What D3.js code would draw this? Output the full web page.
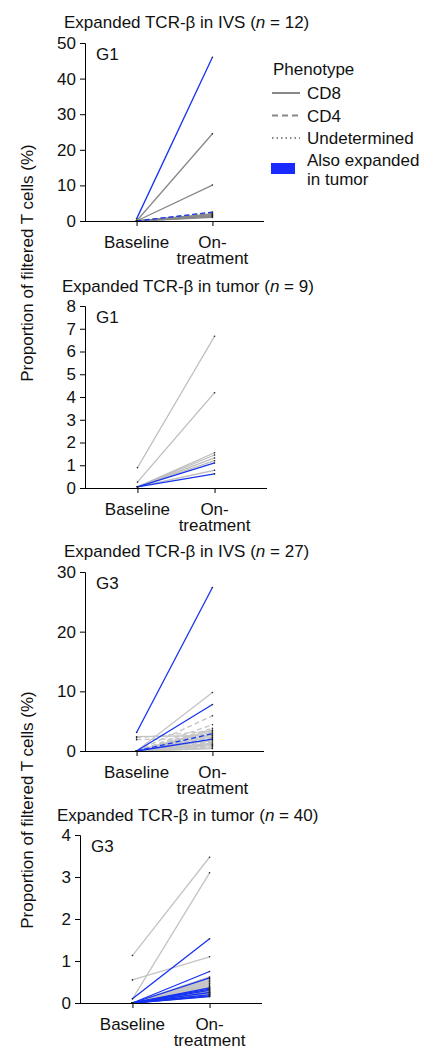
<!DOCTYPE html>
<html>
<head>
<meta charset="utf-8">
<script src="https://cdn.jsdelivr.net/npm/d3@7"></script>
<style>
  body { margin: 0; background: #fff; }
  text { font-family: "Liberation Sans", Arial, sans-serif; fill: #111; }
</style>
</head>
<body>
<div class="chart"></div>
<script>
var w = 441, h = 1047;

var timepoints = ["Baseline", "On-treatment"];

// each row: [baseline %, on-treatment %, phenotype, also expanded in tumor]
var g1Ivs = [
  [0.6, 46.0, "CD8", true],
  [0.0, 24.5, "CD8", false],
  [0.0, 10.1, "CD8", false],
  [0.1, 2.2, "CD4", false],
  [0.0, 2.0, "CD8", false],
  [0.0, 1.8, "CD8", false],
  [0.0, 1.6, "Undetermined", false],
  [0.0, 1.5, "CD8", false],
  [0.0, 1.3, "CD8", false],
  [0.0, 1.2, "CD4", false],
  [0.0, 1.0, "CD8", false],
  [0.0, 2.5, "CD4", true]
];

var g1Tumor = [
  [0.89, 6.67, "CD8", false],
  [0.26, 4.19, "CD8", false],
  [0.05, 1.55, "CD8", false],
  [0.05, 1.45, "CD8", false],
  [0.05, 1.32, "CD8", false],
  [0.05, 1.2, "CD8", false],
  [0.05, 0.78, "CD8", false],
  [0.05, 1.1, "CD8", true],
  [0.05, 0.62, "CD8", true]
];

var g3Ivs = [
  [0.0, 9.8, "CD8", false],
  [0.0, 5.9, "CD4", false],
  [0.0, 4.4, "CD4", false],
  [2.4, 2.6, "CD8", false],
  [2.2, 3.4, "CD4", false],
  [1.9, 2.2, "CD4", false],
  [0.0, 3.8, "CD4", false],
  [0.0, 3.5, "CD8", false],
  [0.0, 3.2, "CD8", false],
  [0.0, 3.0, "CD4", false],
  [0.0, 2.7, "CD8", false],
  [0.0, 2.4, "CD8", false],
  [0.0, 2.2, "CD4", false],
  [0.0, 1.9, "CD8", false],
  [0.0, 1.7, "CD8", false],
  [0.0, 1.5, "CD4", false],
  [0.0, 1.3, "CD8", false],
  [0.0, 1.1, "CD8", false],
  [0.0, 1.0, "Undetermined", false],
  [0.0, 0.9, "CD8", false],
  [0.0, 0.7, "CD4", false],
  [0.0, 0.5, "CD8", false],
  [0.0, 0.4, "CD8", false],
  [3.1, 27.4, "CD8", true],
  [0.0, 7.8, "CD8", true],
  [0.0, 2.9, "CD4", true],
  [0.0, 2.0, "CD8", true]
];

var g3Tumor = [
  [1.13, 3.47, "CD8", false],
  [0.1, 3.1, "CD8", false],
  [0.55, 1.1, "CD8", false],
  [0.0, 0.62, "CD8", false],
  [0.0, 0.58, "CD8", false],
  [0.0, 0.55, "CD8", false],
  [0.0, 0.52, "CD8", false],
  [0.0, 0.5, "CD8", false],
  [0.0, 0.47, "CD8", false],
  [0.0, 0.45, "CD8", false],
  [0.0, 0.42, "CD8", false],
  [0.0, 0.4, "CD8", false],
  [0.0, 0.38, "CD8", false],
  [0.0, 0.36, "CD8", false],
  [0.0, 0.34, "CD8", false],
  [0.0, 0.32, "CD8", false],
  [0.0, 0.3, "CD8", false],
  [0.0, 0.28, "CD8", false],
  [0.0, 0.27, "CD8", false],
  [0.0, 0.26, "CD8", false],
  [0.0, 0.25, "CD8", false],
  [0.0, 0.24, "CD8", false],
  [0.0, 0.23, "CD8", false],
  [0.0, 0.22, "CD8", false],
  [0.0, 0.21, "CD8", false],
  [0.0, 0.2, "CD8", false],
  [0.0, 0.19, "CD8", false],
  [0.0, 0.18, "CD8", false],
  [0.0, 0.17, "CD8", false],
  [0.0, 0.16, "CD8", false],
  [0.1, 1.53, "CD8", true],
  [0.0, 0.75, "CD8", true],
  [0.0, 0.6, "CD8", true],
  [0.0, 0.36, "CD8", true],
  [0.0, 0.33, "CD8", true],
  [0.0, 0.3, "CD8", true],
  [0.0, 0.25, "CD8", true],
  [0.0, 0.2, "CD8", true],
  [0.0, 0.17, "CD8", true],
  [0.0, 0.15, "CD8", true]
];

var titles = [
  ["Expanded TCR-β in IVS (", "12"],
  ["Expanded TCR-β in tumor (", "9"],
  ["Expanded TCR-β in IVS (", "27"],
  ["Expanded TCR-β in tumor (", "40"]
];
var groups = ["G1", "G1", "G3", "G3"];
var yMax = [50, 8, 30, 4];
var yTicks = [[0, 10, 20, 30, 40, 50], [0, 1, 2, 3, 4, 5, 6, 7, 8], [0, 10, 20, 30], [0, 1, 2, 3, 4]];
var legendItems = ["CD8", "CD4", "Undetermined"];

var blue = "#1533f2";
var dashes = { "CD8": null, "CD4": "5,3", "Undetermined": "1,2" };
var fs = "17px";

// panel boxes: axis x, top y, zero y, right end, title x/y
var panels = [
  { data: g1Ivs, x0: 85, top: 43, bot: 221, x1: 264, tx: 64, ty: 28, grey: "#888" },
  { data: g1Tumor, x0: 85, top: 306, bot: 488, x1: 267, tx: 62, ty: 292, grey: "#bdbdbd" },
  { data: g3Ivs, x0: 85, top: 572, bot: 751, x1: 264, tx: 64, ty: 557, grey: "#c4c4c4" },
  { data: g3Tumor, x0: 80, top: 835, bot: 1003, x1: 262, tx: 57, ty: 821, grey: "#c4c4c4" }
];

var svg = d3.select(".chart").append("svg")
  .attr("width", w).attr("height", h);

panels.forEach(function (p, k) {
  var x = d3.scalePoint().domain(timepoints).range([p.x0, p.x1]).padding(0.68);
  var y = d3.scaleLinear().domain([0, yMax[k]]).range([p.bot, p.top]);

  var g = svg.append("g");

  var t = g.append("text").attr("x", p.tx).attr("y", p.ty).style("font-size", fs);
  t.append("tspan").text(titles[k][0]);
  t.append("tspan").style("font-style", "italic").text("n");
  t.append("tspan").text(" = " + titles[k][1] + ")");

  g.append("text").attr("x", p.x0 + 11).attr("y", p.top + 17)
    .style("font-size", fs).text(groups[k]);

  // grey first, blue on top
  var rows = p.data.slice().sort(function (a, b) { return (a[3] ? 1 : 0) - (b[3] ? 1 : 0); });

  g.selectAll("line.trace").data(rows).enter().append("line")
    .attr("class", "trace")
    .attr("x1", x("Baseline")).attr("x2", x("On-treatment"))
    .attr("y1", d => y(d[0])).attr("y2", d => y(d[1]))
    .attr("stroke", d => d[3] ? blue : p.grey)
    .attr("stroke-width", 1.3)
    .attr("stroke-dasharray", d => dashes[d[2]]);

  var pts = [];
  rows.forEach(function (d) {
    pts.push([x("Baseline"), y(d[0])]);
    pts.push([x("On-treatment"), y(d[1])]);
  });
  g.selectAll("circle").data(pts).enter().append("circle")
    .attr("cx", d => d[0]).attr("cy", d => d[1])
    .attr("r", 0.8).attr("fill", "#222");

  var yAxis = d3.axisLeft(y).tickValues(yTicks[k]).tickFormat(d => d).tickSize(5).tickPadding(4);
  var ya = g.append("g").attr("transform", "translate(" + p.x0 + ",0)").call(yAxis);
  ya.selectAll("text").style("font-size", fs).attr("fill", "#111")
    .style("font-family", "'Liberation Sans', Arial, sans-serif");

  var xAxis = d3.axisBottom(x).tickSize(5).tickSizeOuter(0).tickFormat("");
  var xa = g.append("g").attr("transform", "translate(0," + p.bot + ")").call(xAxis);
  xa.select(".domain").attr("d", "M" + p.x0 + ",0.5H" + p.x1);

  g.append("text").attr("x", x("Baseline")).attr("y", p.bot + 27)
    .attr("text-anchor", "middle").style("font-size", fs).text("Baseline");
  var on = g.append("text").attr("x", x("On-treatment")).attr("y", p.bot + 27)
    .attr("text-anchor", "middle").style("font-size", fs);
  on.append("tspan").attr("x", x("On-treatment")).text("On-");
  on.append("tspan").attr("x", x("On-treatment")).attr("dy", 16).text("treatment");
});

// shared y titles
[263, 810].forEach(function (cy) {
  svg.append("text")
    .attr("transform", "translate(33," + cy + ") rotate(-90)")
    .attr("text-anchor", "middle")
    .style("font-size", fs)
    .text("Proportion of filtered T cells (%)");
});

// legend
var lg = svg.append("g");
lg.append("text").attr("x", 273).attr("y", 75).style("font-size", fs).text("Phenotype");
legendItems.forEach(function (name, i) {
  var ly = 93 + i * 22.5;
  lg.append("line").attr("x1", 272).attr("x2", 300).attr("y1", ly).attr("y2", ly)
    .attr("stroke", "#888").attr("stroke-width", 2)
    .attr("stroke-dasharray", name == "CD4" ? "6,4" : name == "Undetermined" ? "1.5,3" : null);
  lg.append("text").attr("x", 307).attr("y", ly + 6).style("font-size", fs).text(name);
});
lg.append("rect").attr("x", 271).attr("y", 163).attr("width", 24).attr("height", 11).attr("fill", "#1a2bff");
lg.append("text").attr("x", 307).attr("y", 166).style("font-size", fs).text("Also expanded");
lg.append("text").attr("x", 307).attr("y", 185).style("font-size", fs).text("in tumor");
</script>
</body>
</html>
